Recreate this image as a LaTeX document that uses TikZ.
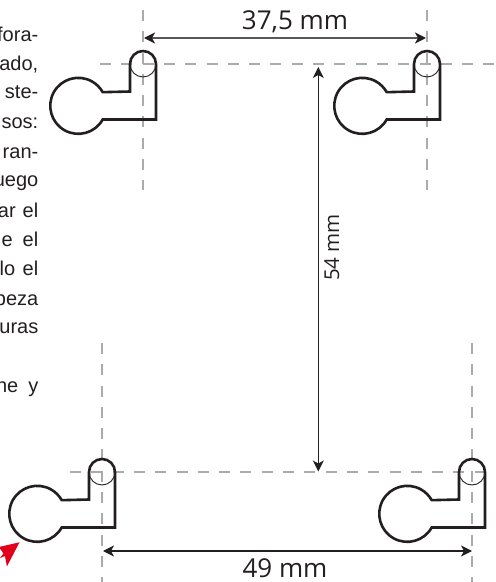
\documentclass[tikz,border=0pt]{standalone}
\usepackage{fontspec}
\setmainfont{Liberation Sans}
\newfontfamily\dimfont{Open Sans}
\usetikzlibrary{arrows.meta}
\definecolor{inkblack}{HTML}{231F20}
\definecolor{axisgray}{HTML}{ABABAB}
\definecolor{topgray}{HTML}{58585A}
\definecolor{markred}{HTML}{E2001A}
\tikzset{
	axis/.style={draw=axisgray,line width=2pt,dash pattern=on 11pt off 10.3pt},
	dimline/.style={draw=inkblack,line width=1.3pt,{Stealth[length=11pt,width=11pt,inset=3pt,color=inkblack]}-{Stealth[length=11pt,width=11pt,inset=3pt,color=inkblack]}},
	bodytext/.style={anchor=base east,inner sep=0pt,text=inkblack,font=\fontsize{20}{24}\selectfont},
	dimtext/.style={anchor=base,inner sep=0pt,text=inkblack},
	keyhole/.pic={
		\draw[inkblack,line width=0.9pt] (-13,0) arc (180:360:13);
		\draw[inkblack,line width=2.6pt,line join=miter] (13,0) -- (13,-55.5) -- (-40.3,-55.5)
		arc (-29.2:-330.8:28) -- (-13,-27.5) -- (-13,0) arc (180:0:13);
	}
}
\begin{document}
\begin{tikzpicture}[x=1pt,y=1pt]
	\useasboundingbox (0,0) rectangle (496,582);
	\clip (0,0) rectangle (496,582);
	
	% axes
	\coordinate (v1a) at (143,572);
	\coordinate (v1b) at (143,392);
	\coordinate (v2a) at (427,572);
	\coordinate (v2b) at (427,392);
	\coordinate (v3a) at (102,239);
	\coordinate (v3b) at (102,0);
	\coordinate (v4a) at (472,239);
	\coordinate (v4b) at (472,0);
	\coordinate (h1a) at (100,518);
	\coordinate (h1b) at (496,518);
	\coordinate (h2a) at (70,110);
	\coordinate (h2b) at (486,110);
	\path[axis] (v1a) -- (v1b);
	\path[axis] (v2a) -- (v2b);
	\path[axis] (v3a) -- (v3b);
	\path[axis] (v4a) -- (v4b);
	\path[axis] (h1a) -- (h1b);
	\path[axis] (h2a) -- (h2b);
	
	% keyholes
	\pic at (143,518) {keyhole};
	\pic at (427,518) {keyhole};
	\pic at (102,110) {keyhole};
	\pic at (472,110) {keyhole};
	
	% dimensions
	\coordinate (d1a) at (144,544);
	\coordinate (d1b) at (426,544);
	\coordinate (d2a) at (318.3,515);
	\coordinate (d2b) at (318.3,110.5);
	\coordinate (d3a) at (103,31);
	\coordinate (d3b) at (472,31);
	\path[dimline,draw=topgray,line width=2pt] (d1a) -- (d1b);
	\path[dimline] (d2a) -- (d2b);
	\path[dimline] (d3a) -- (d3b);
	\node[dimtext,font=\dimfont\fontsize{26}{30}\selectfont] (l1) at (295,552) {37,5 mm};
	\node[dimtext,font=\dimfont\fontsize{20.5}{24}\selectfont,rotate=90] (l2) at (339,334.5) {54 mm};
	\node[dimtext,font=\dimfont\fontsize{26}{30}\selectfont] (l3) at (285,5) {49 mm};
	
	% cut off text on the left
	\node[bodytext] (t1) at (38.5,540) {fora-};
	\node[bodytext] (t2) at (38.5,511) {ado,};
	\node[bodytext] (t3) at (38.5,483) {ste-};
	\node[bodytext] (t4) at (38.5,453) {sos:};
	\node[bodytext] (t5) at (38.5,423.5) {ran-};
	\node[bodytext] (t6) at (38.5,395) {uego};
	\node[bodytext] (t7) at (38.5,364) {ar\hspace{7pt}el};
	\node[bodytext] (t8) at (38.5,335) {e\hspace{10pt}el};
	\node[bodytext] (t9) at (38.5,306) {lo\hspace{7.5pt}el};
	\node[bodytext] (t10) at (38.5,276.5) {beza};
	\node[bodytext] (t11) at (38.5,248) {uras};
	\node[bodytext] (t12) at (38.5,189) {ne\hspace{10pt}y};
	
	% red arrow
	\fill[markred] (19.5,39.7) -- (-1,35) -- (3.5,28.5) -- (0,24) -- (5,26) -- (6.9,15.5) -- cycle;
\end{tikzpicture}
\end{document}
